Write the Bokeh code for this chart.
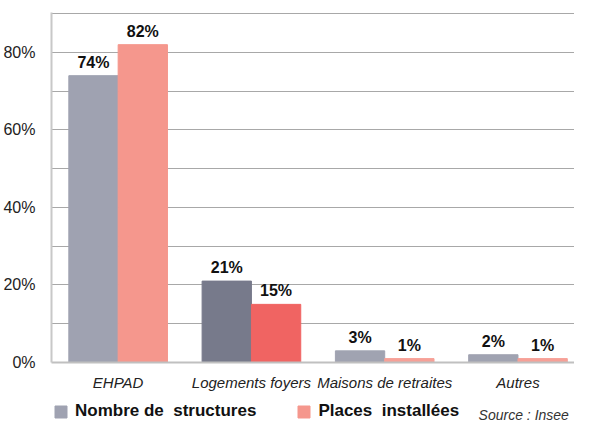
from bokeh.plotting import figure
from bokeh.layouts import column
from bokeh.models import (ColumnDataSource, Range1d, FixedTicker, Legend, LegendItem,
                          Label, LabelSet)
from bokeh.core.properties import value
from bokeh.embed import file_html
from bokeh.resources import INLINE
import numpy as np

categories = ["EHPAD", "Logements foyers", "Maisons de retraites", "Autres"]
structures = [74, 21, 3, 2]
places = [82, 15, 1, 1]
structures_colors = ["#9fa2b1", "#777a8b", "#a0a3b1", "#a0a3b1"]
places_colors = ["#f5978d", "#f06462", "#f7a097", "#f7a097"]
y_ticks = [0, 10, 20, 30, 40, 50, 60, 70, 80, 90]
y_labels = {0: "0%", 20: "20%", 40: "40%", 60: "60%", 80: "80%"}
legend_labels = ["Nombre de  structures", "Places  installées"]
source_text = "Source : Insee"

FONT = "Liberation Sans"
W = 574

x = np.arange(len(categories))
bw = 0.37
src1 = ColumnDataSource(dict(x=x - bw / 2, top=structures, color=structures_colors,
                             lab=[f"{v}%" for v in structures]))
src2 = ColumnDataSource(dict(x=x + bw / 2, top=places, color=places_colors,
                             lab=[f"{v}%" for v in places]))

p = figure(width=W, height=393, output_backend="svg", toolbar_location=None,
           x_range=Range1d(-0.5, 3.424), y_range=Range1d(0, 90.3),
           min_border_left=45, min_border_right=0, min_border_top=12, min_border_bottom=31)
p.outline_line_color = None

p.vbar(x="x", top="top", width=bw, color="color", source=src1)
p.vbar(x="x", top="top", width=bw, color="color", source=src2)

for s in (src1, src2):
    p.add_layout(LabelSet(x="x", y="top", text="lab", source=s, text_align="center",
                          text_baseline="alphabetic", y_offset=8,
                          text_font=value(FONT), text_font_style="bold",
                          text_font_size="16px", text_color="#111111"))

# axes
p.yaxis.ticker = FixedTicker(ticks=y_ticks)
p.yaxis.major_label_overrides = {t: y_labels.get(t, "") for t in y_ticks}
p.yaxis.major_tick_line_color = None
p.yaxis.minor_tick_line_color = None
p.yaxis.axis_line_color = "#c8c8c8"
p.yaxis.axis_line_width = 2
p.yaxis.major_label_text_font = FONT
p.yaxis.major_label_text_font_size = "16px"
p.yaxis.major_label_text_color = "#222222"
p.yaxis.major_label_standoff = 10

p.xaxis.ticker = FixedTicker(ticks=list(x))
p.xaxis.major_label_overrides = {int(i): c for i, c in zip(x, categories)}
p.xaxis.major_tick_line_color = None
p.xaxis.minor_tick_line_color = None
p.xaxis.axis_line_color = "#c0c0c0"
p.xaxis.axis_line_width = 2
p.xaxis.major_label_text_font = FONT
p.xaxis.major_label_text_font_style = "italic"
p.xaxis.major_label_text_font_size = "15px"
p.xaxis.major_label_text_color = "#222222"
p.xaxis.major_label_standoff = 5

p.xgrid.grid_line_color = None
p.ygrid.grid_line_color = "#a8a8a8"
p.ygrid.grid_line_width = 1

# legend strip (frame aligned with the main plot frame by the column layout)
lg = figure(width=W, height=29, output_backend="svg", toolbar_location=None,
            x_range=Range1d(0, 529), y_range=Range1d(0, 29),
            x_axis_location=None, y_axis_location=None,
            min_border_left=45, min_border_right=0, min_border_top=0, min_border_bottom=0,
            outline_line_color=None)
lg.grid.visible = False
ra = lg.vbar(x=[-50], top=[0], width=1, color=structures_colors[0])
rb = lg.vbar(x=[-50], top=[0], width=1, color=places_colors[0])
legend = Legend(items=[LegendItem(label=legend_labels[0], renderers=[ra]),
                       LegendItem(label=legend_labels[1], renderers=[rb])],
                orientation="horizontal", location=(2, 1),
                glyph_width=15, glyph_height=15, label_standoff=7, spacing=40,
                padding=0, margin=0, border_line_color=None, background_fill_alpha=0,
                label_text_font=FONT, label_text_font_style="bold",
                label_text_font_size="17px", label_text_color="#111111",
                label_height=15)
lg.add_layout(legend, "center")
lg.add_layout(Label(x=432, y=8, text=source_text, text_font=FONT,
                    text_font_style="italic", text_font_size="14px", text_color="#333333",
                    text_baseline="alphabetic"))

layout = column(p, lg, spacing=0)
open("out.html", "w").write(file_html(layout, INLINE))
